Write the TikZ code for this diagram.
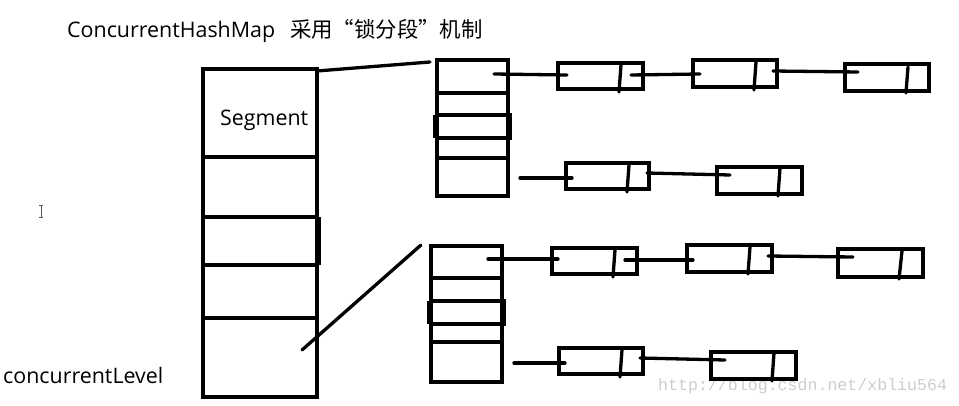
\documentclass[tikz,border=0pt]{standalone}
\usepackage{fontspec}
\setmainfont{Open Sans}
\newfontfamily\cjkfont{Noto Sans CJK SC}
\newfontfamily\wmfont{Liberation Mono}
\definecolor{wmgray}{RGB}{205,205,205}
\definecolor{cursorgray}{RGB}{90,90,90}
\begin{document}
\begin{tikzpicture}[x=1pt,y=-1pt,
  ink/.style={line width=3.3pt},
  thick ink/.style={line width=5pt},
  link/.style={line width=3.3pt, line cap=round},
  lbl/.style={inner sep=0pt, anchor=west, font=\fontsize{21.4}{25}\selectfont},
  boxnode/.style={draw, line width=3.3pt, inner sep=0pt, minimum width=0pt, minimum height=0pt}]
\useasboundingbox (0,0) rectangle (959,406);

% title and labels
\node[lbl] (title) at (67,31) {ConcurrentHashMap\hspace{0.7em}{\cjkfont 采用“锁分段”机制}};
\node[lbl] (seglbl) at (220,120) {Segment};
\node[lbl] (level) at (3,375) {concurrentLevel};
\node[inner sep=0pt, anchor=west, text=wmgray, font=\wmfont\fontsize{16.6}{18}\selectfont] (wm) at (658,386) {http://blog.csdn.net/xbliu564};

% cursor I-beam
\draw[cursorgray, line width=0.8pt] (39,205) -- (43,205) (41,205) -- (41,217) (39,217) -- (43,217);

% Segment column
\node[boxnode, minimum width=114pt, minimum height=328pt] (seg) at (260,233) {};
\foreach \yy in {157,217,265,318} \draw[ink] (203,\yy) -- (317,\yy);
\draw[thick ink] (318,217) -- (318,265);

% top hash table
\node[boxnode, minimum width=71pt, minimum height=136pt] (tabA) at (472.5,128) {};
\foreach \yy in {93,115,138,158} \draw[ink] (437,\yy) -- (508,\yy);
\draw[ink] (437,115) -- (510,115) -- (510,138) -- (437,138);
\draw[thick ink] (435,115) -- (435,138);

% bottom hash table
\node[boxnode, minimum width=71pt, minimum height=136pt] (tabB) at (466.5,314) {};
\foreach \yy in {278,301,324,342} \draw[ink] (431,\yy) -- (502,\yy);
\draw[ink] (431,301) -- (504,301) -- (504,324) -- (431,324);
\draw[thick ink] (429,301) -- (429,324);

% segment -> tables
\coordinate (s1) at (317,71);
\coordinate (t1) at (430,62);
\draw[link] (s1) -- (t1);
\coordinate (s2) at (302,350);
\coordinate (t2) at (421,245);
\draw[link] (s2) -- (t2);

% entry boxes
\node[boxnode, minimum width=85pt, minimum height=26pt] (a1) at (600.5,76) {};
\node[boxnode, minimum width=84pt, minimum height=27pt] (a2) at (735,73.5) {};
\node[boxnode, minimum width=84pt, minimum height=27pt] (a3) at (887,77.5) {};
\node[boxnode, minimum width=83pt, minimum height=26pt] (b1) at (607.5,176) {};
\node[boxnode, minimum width=85pt, minimum height=27pt] (b2) at (759.5,180.5) {};
\node[boxnode, minimum width=85pt, minimum height=26pt] (c1) at (594.5,261) {};
\node[boxnode, minimum width=85pt, minimum height=27pt] (c2) at (729.5,258.5) {};
\node[boxnode, minimum width=85pt, minimum height=28pt] (c3) at (880.5,263) {};
\node[boxnode, minimum width=84pt, minimum height=26pt] (d1) at (601,361) {};
\node[boxnode, minimum width=85pt, minimum height=27pt] (d2) at (753.5,365.5) {};

% dividers inside entry boxes
\draw[link] (621,65) -- (619,92);
\draw[link] (756,62) -- (754,90);
\draw[link] (908,67) -- (906,93);
\draw[link] (629,165) -- (627,192);
\draw[link] (780,168) -- (778,196);
\draw[link] (615,250) -- (613,277);
\draw[link] (750,247) -- (748,274);
\draw[link] (902,251) -- (899,279);
\draw[link] (622,350) -- (620,377);
\draw[link] (774,353) -- (772,381);

% chain links
\coordinate (pA1) at (494,74);  \coordinate (qA1) at (567,75);
\coordinate (pA2) at (631,75);  \coordinate (qA2) at (700,74);
\coordinate (pA3) at (773,71);  \coordinate (qA3) at (858,72);
\coordinate (pB1) at (520,178); \coordinate (qB1) at (572,178);
\coordinate (pB2) at (647,173); \coordinate (qB2) at (730,175);
\coordinate (pC1) at (488,259); \coordinate (qC1) at (558,259);
\coordinate (pC2) at (625,260); \coordinate (qC2) at (693,260);
\coordinate (pC3) at (768,256); \coordinate (qC3) at (853,257);
\coordinate (pD1) at (514,363); \coordinate (qD1) at (565,363);
\coordinate (pD2) at (640,358); \coordinate (qD2) at (725,360);
\foreach \k in {A1,A2,A3,B1,B2,C1,C2,C3,D1,D2} \draw[link] (p\k) -- (q\k);
\end{tikzpicture}
\end{document}
